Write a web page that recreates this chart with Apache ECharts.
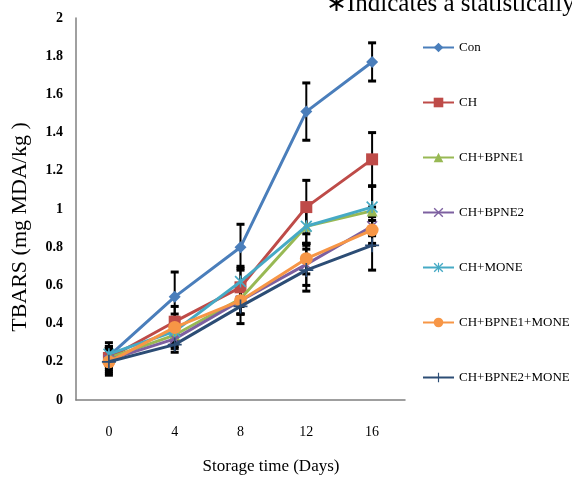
<!DOCTYPE html>
<html>
<head>
<meta charset="utf-8">
<script src="https://cdn.jsdelivr.net/npm/echarts@6/dist/echarts.min.js"></script>
<style>
	html, body { margin: 0; padding: 0; background: #fff; }
	#chartDiv { width: 572px; height: 483px; }
</style>
</head>
<body>
<div id="chartDiv"></div>
<script>
var days = ['0', '4', '8', '12', '16'];
var yTicks = [0, 0.2, 0.4, 0.6, 0.8, 1, 1.2, 1.4, 1.6, 1.8, 2];

var names = ['Con', 'CH', 'CH+BPNE1', 'CH+BPNE2', 'CH+MONE', 'CH+BPNE1+MONE', 'CH+BPNE2+MONE'];

var con = [0.23, 0.54, 0.80, 1.51, 1.77];
var conErr = [0.05, 0.13, 0.12, 0.15, 0.10];
var ch = [0.22, 0.41, 0.59, 1.01, 1.26];
var chErr = [0.05, 0.08, 0.10, 0.14, 0.14];
var bpne1 = [0.22, 0.34, 0.53, 0.91, 0.99];
var bpne1Err = [0.06, 0.06, 0.08, 0.10, 0.13];
var bpne2 = [0.21, 0.32, 0.52, 0.71, 0.91];
var bpne2Err = [0.06, 0.05, 0.07, 0.11, 0.10];
var mone = [0.24, 0.36, 0.62, 0.91, 1.01];
var moneErr = [0.06, 0.06, 0.08, 0.09, 0.11];
var bpne1Mone = [0.20, 0.38, 0.52, 0.74, 0.89];
var bpne1MoneErr = [0.07, 0.07, 0.07, 0.08, 0.07];
var bpne2Mone = [0.20, 0.29, 0.49, 0.68, 0.81];
var bpne2MoneErr = [0.06, 0.04, 0.09, 0.11, 0.13];

var values = [con, ch, bpne1, bpne2, mone, bpne1Mone, bpne2Mone];
var errors = [conErr, chErr, bpne1Err, bpne2Err, moneErr, bpne1MoneErr, bpne2MoneErr];

var colors = ['#4a7ebb', '#be4b48', '#98b954', '#7d60a0', '#46aac5', '#f79646', '#2c4d75'];
var symX = 'path://M0,1 L1,0 L5,4 L9,0 L10,1 L6,5 L10,9 L9,10 L5,6 L1,10 L0,9 L4,5 Z';
var symStar = 'path://M0,1 L1,0 L5,4 L9,0 L10,1 L6,5 L10,9 L9,10 L5,6 L1,10 L0,9 L4,5 Z M4.4,0 L5.6,0 L5.6,10 L4.4,10 Z';
var symPlus = 'path://M4.4,0 L5.6,0 L5.6,4.4 L10,4.4 L10,5.6 L5.6,5.6 L5.6,10 L4.4,10 L4.4,5.6 L0,5.6 L0,4.4 L4.4,4.4 Z';
var symbols = ['diamond', 'rect', 'triangle', symX, symStar, 'circle', symPlus];
var symbolSizes = [12, 12, 11, 11, 12, 13, 14];

var chart = echarts.init(document.getElementById('chartDiv'));

function errorBar(params, api) {
	var x = api.value(0);
	var lo = api.coord([x, api.value(1)]);
	var hi = api.coord([x, api.value(2)]);
	var half = 4;
	return {
		type: 'group',
		children: [
			{ type: 'line', shape: { x1: lo[0], y1: lo[1], x2: hi[0], y2: hi[1] }, style: { stroke: '#000', lineWidth: 2 } },
			{ type: 'line', shape: { x1: lo[0] - half, y1: lo[1], x2: lo[0] + half, y2: lo[1] }, style: { stroke: '#000', lineWidth: 3 } },
			{ type: 'line', shape: { x1: hi[0] - half, y1: hi[1], x2: hi[0] + half, y2: hi[1] }, style: { stroke: '#000', lineWidth: 3 } }
		]
	};
}

var series = [];
for (var s = 0; s < names.length; s++) {
	var errData = [];
	for (var i = 0; i < days.length; i++) {
		errData.push([i, values[s][i] - errors[s][i], values[s][i] + errors[s][i]]);
	}
	series.push({
		name: names[s] + ' err',
		type: 'custom',
		renderItem: errorBar,
		data: errData,
		z: 1,
		silent: true,
		animation: false
	});
}
for (var s = 0; s < names.length; s++) {
	series.push({
		name: names[s],
		type: 'line',
		data: values[s],
		symbol: symbols[s],
		symbolSize: symbolSizes[s],
		showAllSymbol: true,
		z: 2 + s,
		lineStyle: { color: colors[s], width: 3 },
		itemStyle: { color: colors[s] },
		animation: false
	});
}

var option = {
	backgroundColor: '#fff',
	color: colors,
	grid: { left: 76, top: 18, right: 167, bottom: 83 },
	legend: {
		data: names,
		orient: 'vertical',
		left: 417,
		top: 36,
		itemWidth: 31,
		itemHeight: 12,
		itemGap: 42,
		textStyle: { fontFamily: 'Liberation Serif', fontSize: 13, color: '#000' }
	},
	xAxis: {
		type: 'category',
		data: days,
		boundaryGap: true,
		axisLine: { lineStyle: { color: '#808080', width: 1.5 } },
		axisTick: { show: false },
		axisLabel: { margin: 25, fontFamily: 'Liberation Serif', fontSize: 14, color: '#000' },
		splitLine: { show: false }
	},
	yAxis: {
		type: 'value',
		min: yTicks[0],
		max: yTicks[yTicks.length - 1],
		interval: 0.2,
		axisLine: { show: true, lineStyle: { color: '#808080', width: 1.5 } },
		axisTick: { show: false },
		axisLabel: {
			margin: 13,
			fontFamily: 'Liberation Serif',
			fontSize: 14,
			fontWeight: 'bold',
			color: '#000',
			formatter: function (v) { return String(Math.round(v * 10) / 10); }
		},
		splitLine: { show: false }
	},
	graphic: [
		{
			type: 'text',
			left: 326,
			top: -8,
			style: { text: '\u2217Indicates a statistically', font: '25px "Liberation Serif"', fill: '#000' }
		},
		{
			type: 'text',
			x: 271,
			y: 467,
			style: { text: 'Storage time (Days)', font: '17px "Liberation Serif"', fill: '#000', textAlign: 'center', textVerticalAlign: 'middle' }
		},
		{
			type: 'text',
			x: 20,
			y: 227,
			rotation: Math.PI / 2,
			style: { text: 'TBARS (mg MDA/kg )', font: '22px "Liberation Serif"', fill: '#000', textAlign: 'center', textVerticalAlign: 'middle' }
		}
	],
	series: series
};

chart.setOption(option);
</script>
</body>
</html>
